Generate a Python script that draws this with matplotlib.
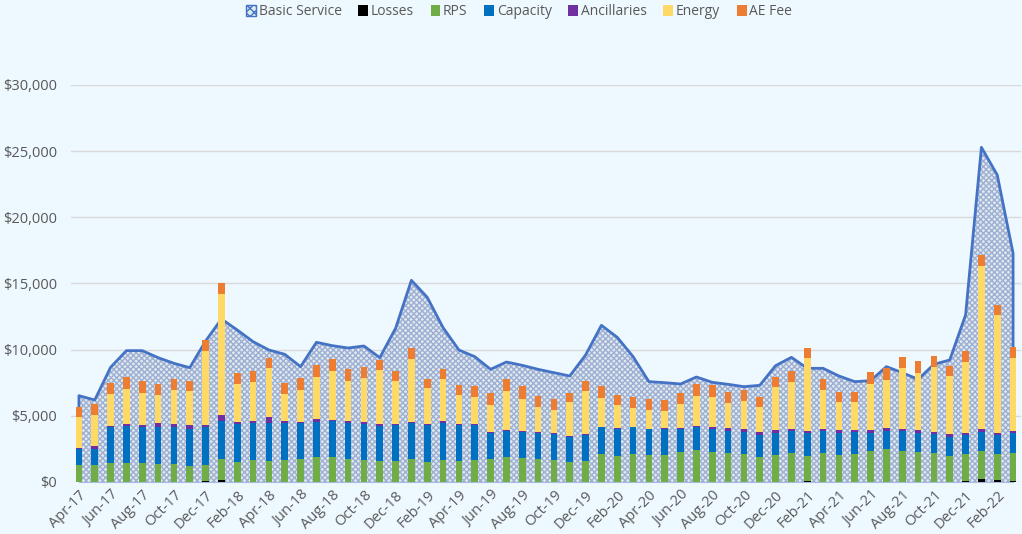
import matplotlib
matplotlib.use("Agg")
import matplotlib.pyplot as plt
from matplotlib.patches import Patch
from matplotlib.ticker import FuncFormatter
import numpy as np
import pandas as pd

months = pd.date_range("2017-04-01", periods=60, freq="MS").strftime("%b-%y").tolist()

basic_service = [6524, 6197, 8665, 9925, 9925, 9396, 8968, 8640, 10650, 12318,
                 11487, 10605, 9975, 9648, 8716, 10555, 10303, 10126, 10278, 9396,
                 11613, 15240, 13955, 11663, 9975, 9471, 8514, 9068, 8817, 8514,
                 8262, 8010, 9597, 11839, 10932, 9471, 7582, 7507, 7406, 7935,
                 7532, 7381, 7204, 7305, 8791, 9421, 8590, 8590, 8010, 7582,
                 7658, 8716, 8262, 7759, 8892, 9220, 12620, 25290, 23200, 17280]

losses = [0, 0, 0, 0, 0, 0, 0, 0, 40, 150,
          0, 0, 0, 0, 0, 0, 0, 0, 0, 0,
          0, 0, 0, 0, 0, 0, 0, 0, 0, 0,
          0, 0, 0, 0, 0, 0, 0, 0, 0, 0,
          0, 0, 0, 0, 0, 0, 80, 20, 20, 20,
          20, 20, 20, 20, 20, 20, 100, 200, 130, 70]

rps = [1260, 1285, 1411, 1461, 1461, 1385, 1335, 1209, 1245, 1588,
       1511, 1663, 1587, 1663, 1763, 1864, 1864, 1738, 1688, 1562,
       1587, 1713, 1486, 1663, 1587, 1663, 1738, 1889, 1814, 1738,
       1663, 1486, 1587, 2116, 1965, 2116, 2015, 2040, 2267, 2418,
       2292, 2192, 2141, 1914, 2040, 2166, 1910, 2146, 2020, 2096,
       2323, 2449, 2348, 2272, 2197, 1970, 2041, 2168, 1961, 2147]

capacity = [1234, 1209, 2720, 2771, 2721, 2797, 2796, 2821, 2846, 2872,
            2872, 2821, 2846, 2770, 2721, 2695, 2721, 2695, 2670, 2670,
            2720, 2771, 2821, 2821, 2720, 2644, 1965, 1990, 1965, 1940,
            1939, 1915, 1940, 2015, 2015, 2015, 1965, 1940, 1713, 1713,
            1688, 1662, 1663, 1663, 1688, 1688, 1688, 1688, 1688, 1688,
            1385, 1410, 1461, 1436, 1410, 1436, 1386, 1385, 1436, 1461]

ancillaries = [101, 201, 126, 151, 125, 251, 252, 277, 176, 478,
               126, 126, 454, 202, 75, 202, 100, 177, 176, 151,
               101, 75, 101, 101, 101, 101, 101, 51, 75, 126,
               101, 100, 100, 51, 76, 51, 50, 76, 101, 126,
               176, 202, 176, 176, 176, 151, 176, 151, 176, 126,
               202, 177, 176, 176, 177, 176, 201, 227, 201, 201]

energy = [2342, 2368, 2368, 2620, 2419, 2167, 2569, 2570, 5618, 9094,
          2922, 2947, 3728, 2040, 2419, 3149, 3678, 3048, 3325, 4106,
          3225, 4761, 2670, 3174, 2167, 2015, 2015, 2947, 2444, 1864,
          1763, 2519, 3250, 2191, 1788, 1410, 1436, 1335, 1788, 2242,
          2242, 1889, 2141, 1940, 3250, 3552, 5542, 2947, 2116, 2090,
          3501, 3627, 4610, 4358, 4912, 4408, 5366, 12368, 8892, 5467]

ae_fee = [756, 831, 831, 932, 881, 831, 832, 756, 806, 831,
          781, 806, 781, 781, 856, 907, 932, 856, 832, 756,
          780, 832, 731, 780, 755, 807, 881, 932, 932, 856,
          832, 731, 781, 882, 756, 831, 806, 831, 882, 932,
          907, 856, 857, 756, 781, 831, 730, 807, 756, 781,
          857, 957, 856, 857, 831, 781, 806, 806, 731, 831]

bg = "#EEF8FF"
txt = "#595959"
plt.rcParams["font.family"] = ["Open Sans", "DejaVu Sans"]
plt.rcParams["hatch.linewidth"] = 1.0
plt.rcParams["hatch.color"] = "#9FAED2"

fig = plt.figure(figsize=(10.22, 5.34), dpi=100, facecolor=bg)
ax = fig.add_axes([71 / 1022, 52 / 534, 950 / 1022, 397 / 534], facecolor=bg)

x = np.arange(len(months))

# basic service area, pattern fill like the excel one
ax.fill_between(x, 0, basic_service, facecolor="#DDEBEF", edgecolor="#9FAED2",
                hatch="xxxxxx", linewidth=0, zorder=1)
ax.plot(np.r_[x[0], x, x[-1]], np.r_[0, basic_service, 0], color="#4472C4", lw=2, zorder=2)

series = [("Losses", losses, "#000000"),
          ("RPS", rps, "#70AD47"),
          ("Capacity", capacity, "#0070C0"),
          ("Ancillaries", ancillaries, "#7030A0"),
          ("Energy", energy, "#FFD966"),
          ("AE Fee", ae_fee, "#ED7D31")]

bottom = np.zeros(len(x))
for name, vals, col in series:
    ax.bar(x, vals, bottom=bottom, width=0.42, color=col, zorder=3, linewidth=0)
    bottom += np.array(vals)

ax.set_xlim(-0.5, len(x) - 0.5)
ax.set_ylim(0, 30000)
ax.set_yticks(np.arange(0, 30001, 5000))
ax.yaxis.set_major_formatter(FuncFormatter(lambda v, p: f"${v:,.0f}"))
ax.grid(axis="y", color="#D9D9D9", lw=1, zorder=0)
ax.set_axisbelow(True)

ax.set_xticks(x[::2])
ax.set_xticklabels(months[::2], rotation=45, ha="right", rotation_mode="anchor")
ax.tick_params(axis="both", length=0, labelsize=10.5, labelcolor=txt)
ax.tick_params(axis="y", pad=10)
ax.tick_params(axis="x", pad=4)

for s in ["top", "right", "left"]:
    ax.spines[s].set_visible(False)
ax.spines["bottom"].set_color("#A8BCE0")
ax.spines["bottom"].set_bounds(0, len(x) - 1)

handles = [Patch(facecolor="#DDEBEF", edgecolor="#4472C4", hatch="xxxx", label="Basic Service")]
handles += [Patch(facecolor=c, label=n) for n, v, c in series]
fig.legend(handles=handles, loc="center", bbox_to_anchor=(0.508, 0.978), ncol=7,
           frameon=False, fontsize=10, labelcolor=txt, handlelength=0.7,
           handleheight=0.9, handletextpad=0.2, columnspacing=1.2)

fig.savefig("out.png", dpi=100, facecolor=bg)
